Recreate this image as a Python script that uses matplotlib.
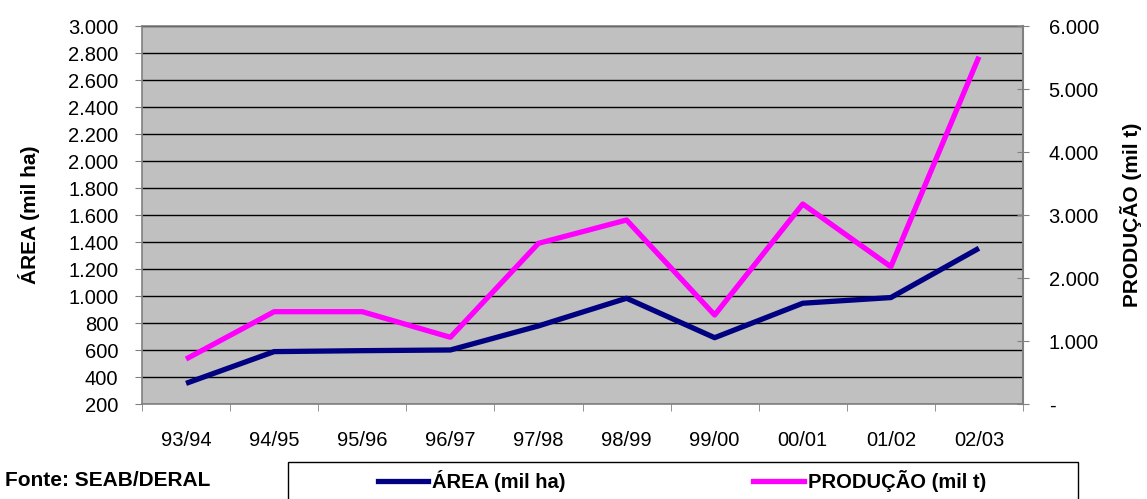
import matplotlib
matplotlib.use('Agg')
import matplotlib.pyplot as plt
from matplotlib.ticker import FuncFormatter
from matplotlib.lines import Line2D
from matplotlib.patches import Rectangle

plt.rcParams['font.family'] = ['Liberation Sans', 'DejaVu Sans']

safras = ['93/94', '94/95', '95/96', '96/97', '97/98', '98/99', '99/00', '00/01', '01/02', '02/03']
area = [355, 590, 597, 602, 780, 985, 693, 948, 990, 1355]
producao = [718, 1469, 1469, 1063, 2553, 2923, 1416, 3177, 2182, 5513]

def br(v, pos=None):
    v = int(round(v))
    if v == 0:
        return '-'
    return '{:,}'.format(v).replace(',', '.')

fs = 14.5

fig = plt.figure(figsize=(11.47, 4.99), dpi=100)
ax = fig.add_axes([142 / 1147, 1 - 404.3 / 499, (1023 - 142) / 1147, (404.3 - 26) / 499])
ax.set_facecolor('#C0C0C0')

x = list(range(len(safras)))
ax.plot(x, area, color='#000080', lw=3.8, solid_capstyle='butt', zorder=3)
ax.set_xlim(-0.5, len(safras) - 0.5)
ax.set_ylim(200, 3000)
ax.set_yticks(range(200, 3001, 200))
ax.yaxis.set_major_formatter(FuncFormatter(br))
ax.grid(axis='y', color='black', lw=1)
ax.set_axisbelow(True)

ax.set_xticks(x)
ax.set_xticklabels(safras)
ax.set_xticks([i - 0.5 for i in range(len(safras) + 1)], minor=True)
ax.tick_params(axis='x', which='major', length=0, pad=19, labelsize=fs)
ax.tick_params(axis='x', which='minor', length=5, color='#808080')
ax.tick_params(axis='y', length=5, color='#808080', labelsize=fs, pad=12)
for s in ax.spines.values():
    s.set_color('#808080')
    s.set_linewidth(1.2)
ax.set_ylabel('ÁREA (mil ha)', fontsize=15, fontweight='bold', labelpad=20)

ax2 = ax.twinx()
ax2.plot(x, producao, color='#FF00FF', lw=3.8, solid_capstyle='butt', zorder=3)
ax2.set_ylim(0, 6000)
ax2.set_yticks(range(0, 6001, 1000))
ax2.yaxis.set_major_formatter(FuncFormatter(br))
ax2.tick_params(axis='y', direction='inout', length=9, color='#808080', labelsize=fs, pad=14)
ax2.spines['right'].set_color('#808080')
ax2.spines['right'].set_linewidth(1.5)
for k in ['top', 'left', 'bottom']:
    ax2.spines[k].set_visible(False)
ax2.set_ylabel('PRODUÇÃO (mil t)', fontsize=15, fontweight='bold', labelpad=15)

fig.text(5 / 1147, 1 - 481 / 499, 'Fonte: SEAB/DERAL', fontsize=15, fontweight='bold', va='center')

# caixa da legenda
fig.patches.append(Rectangle((288 / 1147, -0.02), (1078 - 288) / 1147, 0.02 + (499 - 462) / 499,
                             transform=fig.transFigure, fill=False, edgecolor='black', lw=1))
handles = [Line2D([], [], color='#000080', lw=3.8),
           Line2D([], [], color='#FF00FF', lw=3.8)]
leg = fig.legend(handles, ['ÁREA (mil ha)', 'PRODUÇÃO (mil t)'], ncol=2, frameon=False,
                 loc='center left', bbox_to_anchor=(378 / 1147, 1 - 481 / 499),
                 borderpad=0, borderaxespad=0, handlelength=2.5, handletextpad=0.2,
                 columnspacing=9.3, prop={'size': fs, 'weight': 'bold'})

fig.savefig('out.png', dpi=100)
